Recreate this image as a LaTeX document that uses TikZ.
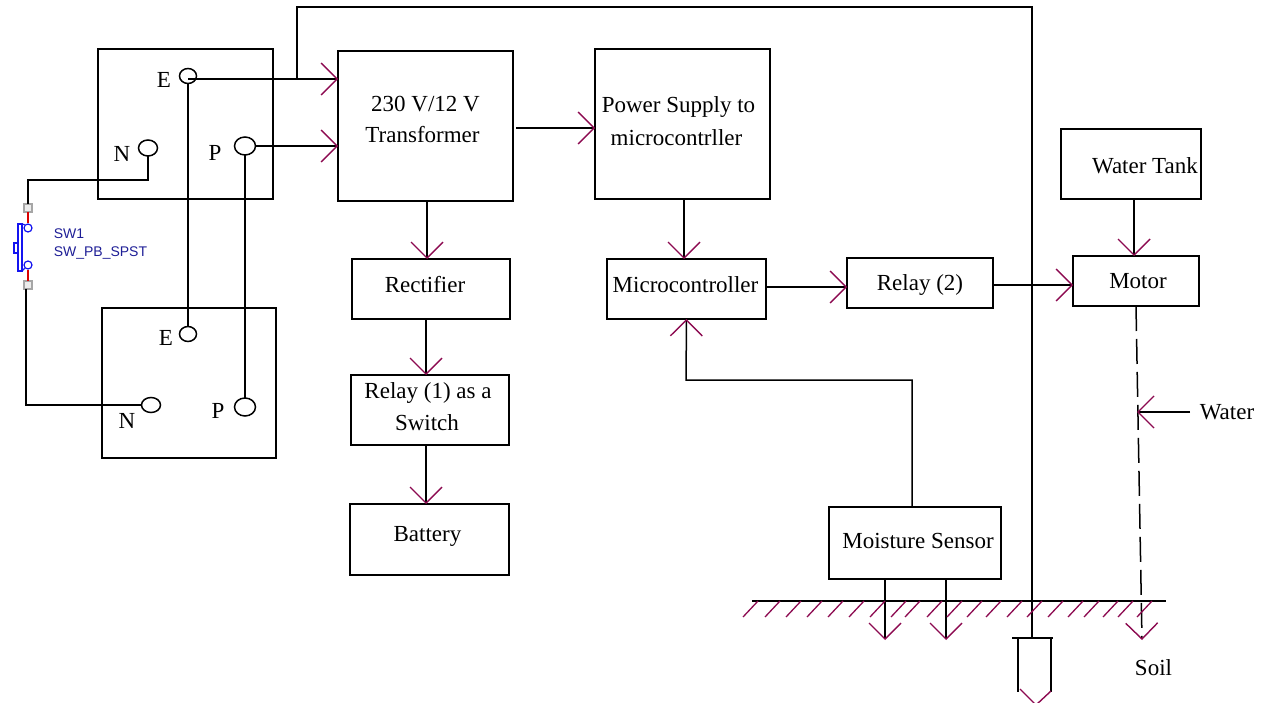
\documentclass[tikz,border=0pt]{standalone}
\usepackage{fontspec}
\setmainfont{Liberation Serif}
\newfontfamily\swfont{Liberation Sans}
\usetikzlibrary{arrows.meta, shapes.geometric}
\definecolor{tipred}{RGB}{140,10,80}
\definecolor{swblue}{RGB}{20,20,240}
\definecolor{swtext}{RGB}{30,30,150}
\newcommand{\tshift}[3]{\raisebox{#2}[\height][\depth]{\hspace*{#1}#3\hspace*{-#1}}}
\tikzset{
  blockbox/.style={draw,rectangle,align=center,line width=1.5pt,inner sep=0pt,outer sep=0pt,font=\fontsize{23}{31}\selectfont},
  terminal/.style={draw,ellipse,line width=1.5pt,inner sep=0pt,outer sep=0pt},
  pinlabel/.style={inner sep=0pt,font=\fontsize{23}{27}\selectfont},
  swpin/.style={draw=gray!70,fill=gray!15,rectangle,line width=1.2pt,minimum size=8pt,inner sep=0pt,outer sep=0pt},
  swtag/.style={anchor=west,inner sep=0pt,text=swtext,font=\swfont\fontsize{14}{16}\selectfont},
  hatchline/.style={draw=tipred,line width=1.3pt},
}
\begin{document}
\begin{tikzpicture}[x=1pt,y=-1pt,line width=1.5pt,>={Straight Barb[color=tipred,length=16pt,width=32pt,line width=1.4pt]}]
  \useasboundingbox (0,0) rectangle (1266,703);
  % socket boxes
  \node[blockbox,minimum width=175pt,minimum height=150pt] (inA) at (185.5,124) {};
  \node[blockbox,minimum width=174pt,minimum height=150pt] (inB) at (189,383) {};
  \node[terminal,minimum width=17pt,minimum height=15pt] (eA) at (188,76) {};
  \node[terminal,minimum width=21pt,minimum height=18pt] (pA) at (245,146) {};
  \node[terminal,minimum width=19pt,minimum height=16pt] (nA) at (148,148) {};
  \node[terminal,minimum width=17pt,minimum height=15pt] (eB) at (188,334) {};
  \node[terminal,minimum width=19pt,minimum height=15pt] (nB) at (151,405) {};
  \node[terminal,minimum width=21pt,minimum height=18pt] (pB) at (245,407) {};
  \node[pinlabel] (eAtxt) at (164,80) {E};
  \node[pinlabel] (nAtxt) at (122,154) {N};
  \node[pinlabel] (pAtxt) at (215,153) {P};
  \node[pinlabel] (eBtxt) at (166,338) {E};
  \node[pinlabel] (nBtxt) at (127,421) {N};
  \node[pinlabel] (pBtxt) at (218,411) {P};
  % blocks
  \node[blockbox,minimum width=175pt,minimum height=150pt] (trafo) at (425.5,126) {\tshift{0pt}{7pt}{230 V/12 V}\\\tshift{-3pt}{7pt}{Transformer}};
  \node[blockbox,minimum width=175pt,minimum height=150pt] (supply) at (682.5,124) {\tshift{-4pt}{4pt}{Power Supply to}\\\tshift{-6pt}{2pt}{microcontrller}};
  \node[blockbox,minimum width=158pt,minimum height=60pt] (rect) at (431,289) {\tshift{-6pt}{4pt}{Rectifier}};
  \node[blockbox,minimum width=158pt,minimum height=70pt] (relayA) at (430,410) {\tshift{-2pt}{4pt}{Relay (1) as a}\\\tshift{-3pt}{3pt}{Switch}};
  \node[blockbox,minimum width=159pt,minimum height=71pt] (batt) at (429.5,539.5) {\tshift{-2pt}{3pt}{Battery}};
  \node[blockbox,minimum width=159pt,minimum height=60pt] (micro) at (686.5,289) {\tshift{-1pt}{4pt}{Microcontroller}};
  \node[blockbox,minimum width=146pt,minimum height=50pt] (relayB) at (920,283) {\tshift{0pt}{-2pt}{Relay (2)}};
  \node[blockbox,minimum width=172pt,minimum height=72pt] (sensor) at (915,543) {\tshift{3pt}{2pt}{Moisture Sensor}};
  \node[blockbox,minimum width=140pt,minimum height=70pt] (tank) at (1131,164) {\tshift{14pt}{-2pt}{Water Tank}};
  \node[blockbox,minimum width=126pt,minimum height=50pt] (motor) at (1136,281) {\tshift{2pt}{0pt}{Motor}};
  \node[pinlabel] (water) at (1227,412) {Water};
  \node[pinlabel] (soil) at (1153.5,668) {Soil};
  % free ends
  \coordinate (tapE) at (188,79);
  \coordinate (tapTop) at (297,79);
  \coordinate (topL) at (297,7);
  \coordinate (topR) at (1032,7);
  \coordinate (rodTop) at (1032,638);
  \coordinate (swCorner) at (28,180);
  \coordinate (bend) at (686,380);
  \coordinate (probeA) at (885,640);
  \coordinate (probeB) at (946,640);
  \coordinate (soilEnd) at (1142,640);
  \coordinate (waterEnd) at (1137,412);
  % input wiring
  \draw[->] (tapE) -- (trafo.west |- tapE);
  \draw[->] (pA.east) -- (trafo.west |- pA.east);
  \draw (eA.south) -- (eB.north);
  \draw (pA.south) -- (pB.north);
  \draw (tapTop) -- (topL) -- (topR) -- (rodTop);
  % block wiring
  \draw[->] ([xshift=3pt,yshift=-2pt]trafo.east) -- ([yshift=-4pt]supply.west);
  \draw[->] ([xshift=1.5pt]trafo.south) -- ([xshift=-4pt]rect.north);
  \draw[->] ([xshift=-5pt]rect.south) -- ([xshift=-4pt]relayA.north);
  \draw[->] ([xshift=-4pt]relayA.south) -- ([xshift=-3.5pt]batt.north);
  \draw[->] ([xshift=1.5pt]supply.south) -- ([xshift=-2.5pt]micro.north);
  \draw[->] ([yshift=2pt]micro.east) -- ([yshift=-4pt]relayB.west);
  \draw[->] ([yshift=-2pt]relayB.east) -- ([yshift=-4pt]motor.west);
  \draw[->] ([xshift=3pt]tank.south) -- ([xshift=-2pt]motor.north);
  \draw[->] ([xshift=-3pt]sensor.north) |- (bend) -- (micro.south);
  \draw[->] ([xshift=-30pt]sensor.south) -- (probeA);
  \draw[->] ([xshift=31pt]sensor.south) -- (probeB);
  \draw[->,dash pattern=on 25pt off 8pt] (motor.south) -- (soilEnd);
  \draw[->] ([xshift=-9pt]water.west) -- (waterEnd);
  % ground line
  \coordinate (gndL) at (752,601);
  \coordinate (gndR) at (1166,601);
  \draw (gndL) -- (gndR);
  \foreach \hx in {758,780,801,822,843,864,885,906,920,942,962,982,1001,1022,1042,1063,1083,1099,1118,1133,1152}
    \draw[hatchline] (\hx,601) -- ++(-15,16);
  % earth rod
  \draw (1012,638) -- (1053,638);
  \draw (1018,638) -- (1018,692);
  \draw (1051,638) -- (1051,692);
  \draw[draw=tipred,line width=1.4pt] (1020,689) -- (1036,705) -- (1051,691);
  % switch
  \node[swpin] (swTop) at (28,208) {};
  \node[swpin] (swBot) at (28,285) {};
  \draw (nA.south) |- (swCorner) -- (swTop.north);
  \coordinate (swLow) at (26,405);
  \draw ([xshift=-2pt]swBot.south) -- (swLow) -- (nB.west);
  \node[draw=swblue,circle,line width=1.2pt,minimum size=8pt,inner sep=0pt] (swA) at (28,228) {};
  \node[draw=swblue,circle,line width=1.2pt,minimum size=8pt,inner sep=0pt] (swB) at (28,265) {};
  \draw[red!85!black,line width=1.2pt] (swTop.south) -- (swA.north);
  \draw[red!85!black,line width=1.2pt] (swB.south) -- (swBot.north);
  \draw[swblue,line width=1.2pt] (18,224) rectangle (22,271);
  \draw[swblue,line width=1.2pt] (14,243) rectangle (18,253);
  \draw[swblue,line width=1.2pt] (22,224) -- (swA.north west);
  \draw[swblue,line width=1.2pt] (22,271) -- (swB.south west);
  \node[swtag] (swName) at (53,234) {SW1};
  \node[swtag] (swType) at (53,253) {SW\_PB\_SPST};
\end{tikzpicture}
\end{document}
